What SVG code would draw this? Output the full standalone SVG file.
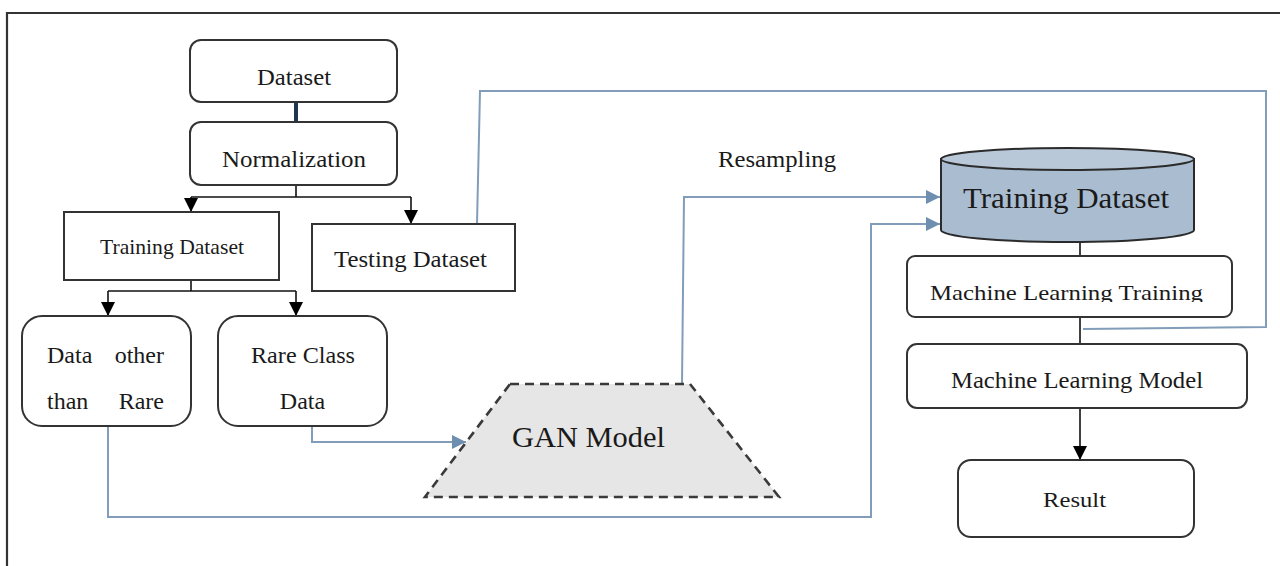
<svg xmlns="http://www.w3.org/2000/svg" width="1280" height="566" viewBox="0 0 1280 566">
  <style>
    .box { fill: #ffffff; stroke: #333333; stroke-width: 2; }
    .lbl { font-family: "Liberation Serif", "Times New Roman", serif; fill: #1a1a1a; }
    .blk { fill: none; stroke: #111111; stroke-width: 1.6; }
    .blu { fill: none; stroke: #819db9; stroke-width: 2; }
  </style>
  <defs>
    <marker id="arrBlack" markerUnits="userSpaceOnUse" markerWidth="14" markerHeight="14" refX="14" refY="7" orient="auto">
      <path d="M0,0 L14,7 L0,14 Z" fill="#000000"/>
    </marker>
    <marker id="arrBlue" markerUnits="userSpaceOnUse" markerWidth="14" markerHeight="14" refX="14" refY="7" orient="auto">
      <path d="M0,0 L14,7 L0,14 Z" fill="#6f8fb0"/>
    </marker>
    <clipPath id="mltClip">
      <rect x="907" y="256" width="325" height="46"/>
    </clipPath>
  </defs>

  <rect width="1280" height="566" fill="#ffffff"/>

  <!-- outer frame: top and left edges only -->
  <path d="M7,566 V13 H1280" fill="none" stroke="#333333" stroke-width="2.2"/>

  <g id="connectors">
    <!-- dataset to normalization -->
    <line x1="296" y1="102" x2="296" y2="122" stroke="#1f3550" stroke-width="4"/>
    <!-- normalization split -->
    <path class="blk" d="M296,174 V197"/>
    <path class="blk" d="M191,197 H411"/>
    <path class="blk" d="M191,197 V212" marker-end="url(#arrBlack)"/>
    <path class="blk" d="M411,197 V224" marker-end="url(#arrBlack)"/>
    <!-- training split -->
    <path class="blk" d="M191,280 V291"/>
    <path class="blk" d="M108,291 H296"/>
    <path class="blk" d="M108,291 V316" marker-end="url(#arrBlack)"/>
    <path class="blk" d="M296,291 V316" marker-end="url(#arrBlack)"/>
    <!-- right column -->
    <path class="blk" d="M1080,242 V256"/>
    <path class="blk" d="M1080,317 V344"/>
    <path class="blk" d="M1080,408 V460" marker-end="url(#arrBlack)"/>
    <!-- blue flows -->
    <path class="blu" d="M477,224 L480,91 H1266 V327 L1083,329"/>
    <path class="blu" d="M682,384 L684,197 H940" marker-end="url(#arrBlue)"/>
    <path class="blu" d="M108,426 V517 H871 V224 H940" marker-end="url(#arrBlue)"/>
    <path class="blu" d="M312,426 V442 H466" marker-end="url(#arrBlue)"/>
  </g>

  <g id="dataset">
    <rect class="box" x="190" y="40" width="207" height="62" rx="11"/>
    <text class="lbl" x="294" y="85" font-size="24" text-anchor="middle" textLength="74" lengthAdjust="spacingAndGlyphs">Dataset</text>
  </g>

  <g id="normalization">
    <rect class="box" x="190" y="122" width="207" height="63" rx="11"/>
    <text class="lbl" x="294" y="167" font-size="24" text-anchor="middle" textLength="144" lengthAdjust="spacingAndGlyphs">Normalization</text>
  </g>

  <g id="training-split">
    <rect class="box" x="64" y="212" width="215" height="68"/>
    <text class="lbl" x="172" y="254" font-size="22" text-anchor="middle" textLength="144" lengthAdjust="spacingAndGlyphs">Training Dataset</text>
  </g>

  <g id="testing-split">
    <rect class="box" x="312" y="224" width="203" height="67"/>
    <text class="lbl" x="410.5" y="267" font-size="24" text-anchor="middle" textLength="153" lengthAdjust="spacingAndGlyphs">Testing Dataset</text>
  </g>

  <g id="other-data">
    <rect class="box" x="22" y="316" width="169" height="110" rx="20"/>
    <text class="lbl" x="47" y="363" font-size="24">Data</text>
    <text class="lbl" x="164" y="363" font-size="24" text-anchor="end">other</text>
    <text class="lbl" x="47" y="409" font-size="24">than</text>
    <text class="lbl" x="164" y="409" font-size="24" text-anchor="end">Rare</text>
  </g>

  <g id="rare-data">
    <rect class="box" x="218" y="316" width="169" height="110" rx="20"/>
    <text class="lbl" x="303" y="363" font-size="24" text-anchor="middle" textLength="104" lengthAdjust="spacingAndGlyphs">Rare Class</text>
    <text class="lbl" x="302.5" y="409" font-size="24" text-anchor="middle">Data</text>
  </g>

  <g id="gan-model">
    <polygon points="510,384 690,384 779,497 425,497" fill="#e6e6e6" stroke="#3a3a3a" stroke-width="2.6" stroke-dasharray="9 6"/>
    <text class="lbl" x="588.5" y="447" font-size="29" text-anchor="middle" textLength="153" lengthAdjust="spacingAndGlyphs">GAN Model</text>
  </g>

  <g id="resampling-label">
    <text class="lbl" x="777" y="167" font-size="24" text-anchor="middle" textLength="118" lengthAdjust="spacingAndGlyphs">Resampling</text>
  </g>

  <g id="training-store">
    <path d="M941,159 V230 A126.5,12 0 0 0 1194,230 V159 Z" fill="#a9bcd0" stroke="#2b2b2b" stroke-width="2"/>
    <ellipse cx="1067.5" cy="159" rx="126.5" ry="11" fill="#b9c8d8" stroke="#2b2b2b" stroke-width="2"/>
    <text class="lbl" x="1066" y="208" font-size="29" text-anchor="middle" textLength="206" lengthAdjust="spacingAndGlyphs">Training Dataset</text>
  </g>

  <g id="ml-training">
    <rect class="box" x="907" y="256" width="325" height="61" rx="8"/>
    <text class="lbl" x="1066.5" y="300" font-size="22" text-anchor="middle" textLength="273" lengthAdjust="spacingAndGlyphs" clip-path="url(#mltClip)">Machine Learning Training</text>
  </g>

  <g id="ml-model">
    <rect class="box" x="907" y="344" width="340" height="64" rx="10"/>
    <text class="lbl" x="1077" y="388" font-size="23" text-anchor="middle" textLength="252" lengthAdjust="spacingAndGlyphs">Machine Learning Model</text>
  </g>

  <g id="result">
    <rect class="box" x="958" y="460" width="236" height="77" rx="13"/>
    <text class="lbl" x="1074.5" y="507" font-size="22" text-anchor="middle" textLength="63" lengthAdjust="spacingAndGlyphs">Result</text>
  </g>
</svg>
